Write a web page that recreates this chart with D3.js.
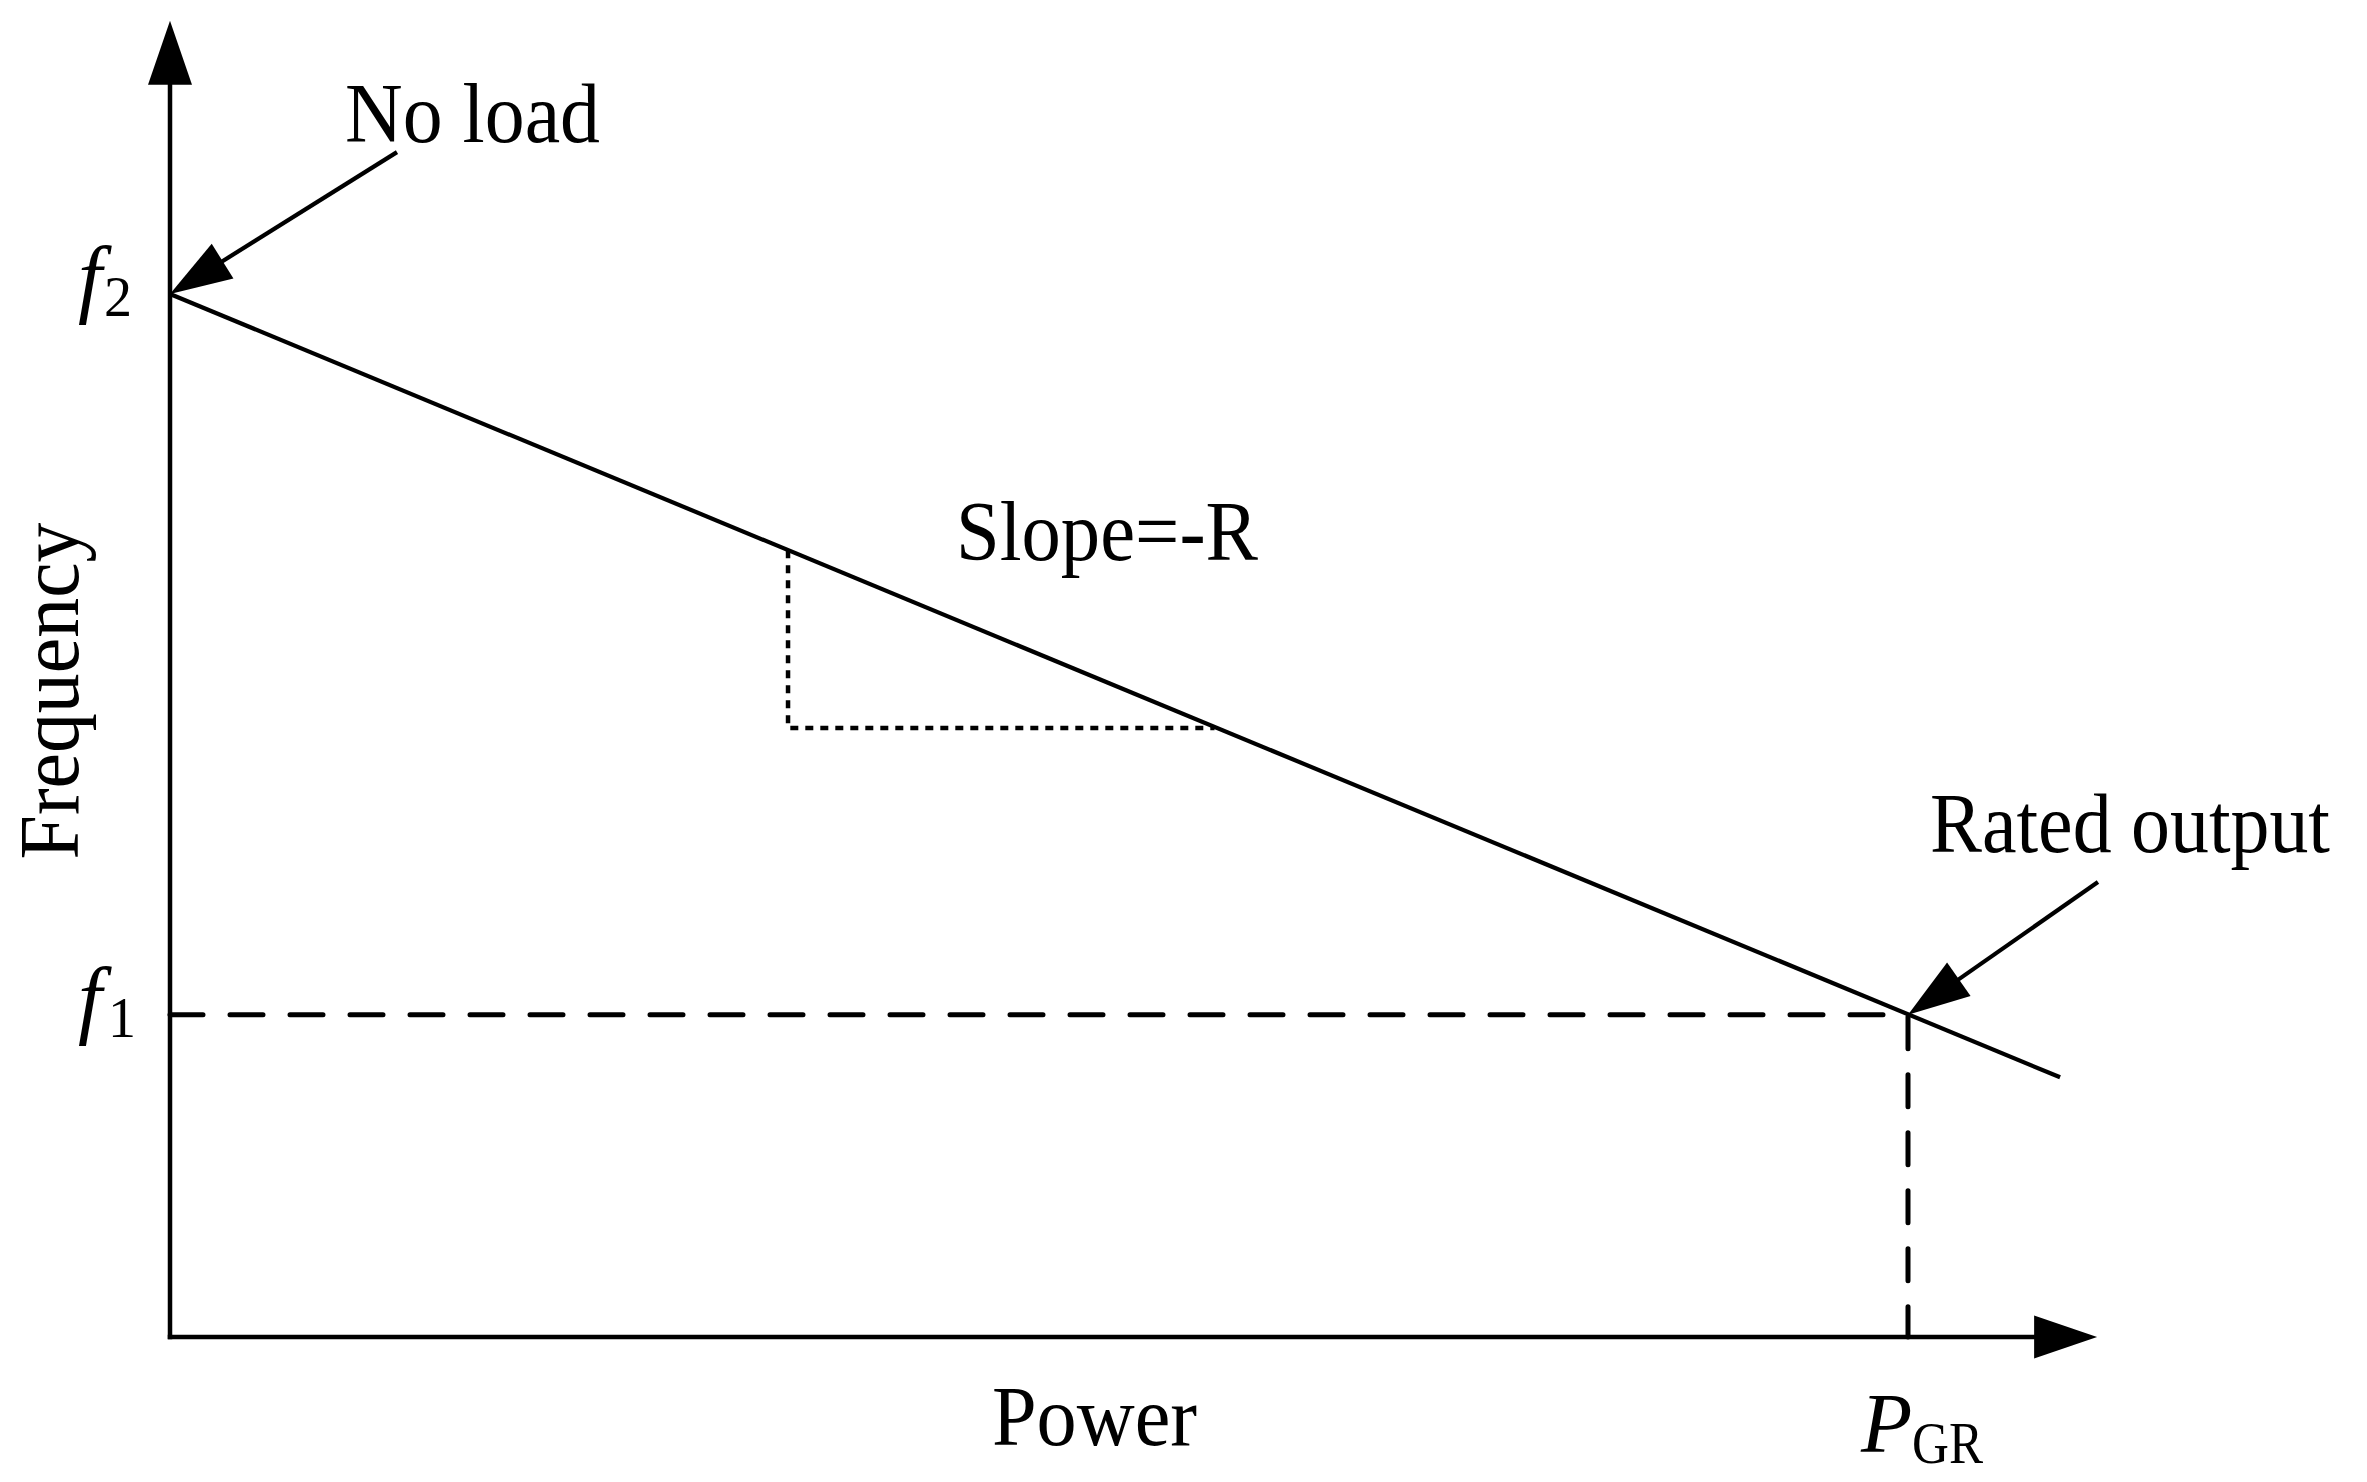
<!DOCTYPE html>
<html>
<head>
<meta charset="utf-8">
<script src="https://cdn.jsdelivr.net/npm/d3@7"></script>
<style>
  html, body { margin: 0; padding: 0; background: #fff; }
  svg { display: block; }
  text { font-family: "Liberation Serif", "Times New Roman", serif; fill: #000; }
</style>
</head>
<body>
<svg id="chart" width="2367" height="1482"></svg>
<script>
// ---- data (abstract units: power p, frequency f) ----
const yTickLabels = [
  { name: "f", sub: "2", value: 10.0 },
  { name: "f", sub: "1", value: 3.09 }
];
const xTickLabels = [
  { name: "P", sub: "GR", value: 1.0 }
];
const droopLine = [
  { p: 0.0, f: 10.0 },
  { p: 1.0875, f: 2.49 }
];
const ratedPoint = { p: 1.0, f: 3.09 };
const slopeTriangle = [
  { p: 0.3556, f: 7.543 },
  { p: 0.3556, f: 5.839 },
  { p: 0.601, f: 5.839 }
];
const axisExtent = { pMax: 1.1088, fMax: 12.62 };
const annotations = [
  { text: "No load", from: { p: 0.1306, f: 11.36 }, to: { p: 0.0, f: 10.0 } },
  { text: "Rated output", from: { p: 1.1093, f: 4.362 }, to: { p: 1.0, f: 3.09 } }
];
const axisTitles = { x: "Power", y: "Frequency" };
const slopeLabel = "Slope=-R";

// ---- scales ----
const x = d3.scaleLinear().domain([0, 1]).range([170, 1908]);
const y = d3.scaleLinear().domain([0, 10]).range([1337, 294]);

const svg = d3.select("#chart");
svg.append("rect").attr("width", 2367).attr("height", 1482).attr("fill", "#fff");

function arrowHead(g, fx, fy, tx, ty, L, W) {
  const dx = tx - fx, dy = ty - fy;
  const len = Math.hypot(dx, dy);
  const ux = dx / len, uy = dy / len;
  const bx = tx - ux * L, by = ty - uy * L;
  const nx = -uy, ny = ux;
  g.append("path")
    .attr("d", `M${tx},${ty}L${bx + nx * W},${by + ny * W}L${bx - nx * W},${by - ny * W}Z`)
    .attr("fill", "#000");
  return [bx + ux * 2, by + uy * 2];
}

// ---- axes ----
const axes = svg.append("g");
const x0 = x(0), y0 = y(0);
const xTip = x(axisExtent.pMax), yTip = y(axisExtent.fMax);
const xb = arrowHead(axes, x0, y0, xTip, y0, 63, 21.5);
const yb = arrowHead(axes, x0, y0, x0, yTip, 64, 22);
axes.append("line").attr("x1", x0 - 2.25).attr("y1", y0).attr("x2", xb[0]).attr("y2", y0)
  .attr("stroke", "#000").attr("stroke-width", 4.5);
axes.append("line").attr("x1", x0).attr("y1", y0 + 2.25).attr("x2", x0).attr("y2", yb[1])
  .attr("stroke", "#000").attr("stroke-width", 4.5);

// ---- reference dashed lines ----
svg.append("line")
  .attr("x1", x(0)).attr("y1", y(ratedPoint.f))
  .attr("x2", x(ratedPoint.p)).attr("y2", y(ratedPoint.f))
  .attr("stroke", "#000").attr("stroke-width", 5)
  .attr("stroke-linecap", "round").attr("stroke-dasharray", "33,27");
svg.append("line")
  .attr("x1", x(ratedPoint.p)).attr("y1", y(ratedPoint.f) + 2)
  .attr("x2", x(ratedPoint.p)).attr("y2", y(0))
  .attr("stroke", "#000").attr("stroke-width", 5)
  .attr("stroke-linecap", "round").attr("stroke-dasharray", "32,26");

// ---- slope triangle (dotted) ----
svg.append("path")
  .datum(slopeTriangle)
  .attr("d", d3.line().x(d => x(d.p)).y(d => y(d.f)))
  .attr("fill", "none").attr("stroke", "#000").attr("stroke-width", 4.5)
  .attr("stroke-dasharray", "8,7");

// ---- droop line ----
svg.append("path")
  .datum(droopLine)
  .attr("d", d3.line().x(d => x(d.p)).y(d => y(d.f)))
  .attr("fill", "none").attr("stroke", "#000").attr("stroke-width", 4.2);

// ---- annotation arrows ----
annotations.forEach(a => {
  const fx = x(a.from.p), fy = y(a.from.f), tx = x(a.to.p), ty = y(a.to.f);
  const b = arrowHead(svg, fx, fy, tx, ty, 62, 20.5);
  svg.append("line").attr("x1", fx).attr("y1", fy).attr("x2", b[0]).attr("y2", b[1])
    .attr("stroke", "#000").attr("stroke-width", 4.2);
});

// ---- texts ----
const FS = 84;
svg.append("text").attr("x", 345).attr("y", 142).attr("font-size", FS)
  .attr("textLength", 255).attr("lengthAdjust", "spacingAndGlyphs").text(annotations[0].text);
svg.append("text").attr("x", 1930).attr("y", 852).attr("font-size", FS)
  .attr("textLength", 400).attr("lengthAdjust", "spacingAndGlyphs").text(annotations[1].text);
svg.append("text").attr("x", 956).attr("y", 560).attr("font-size", FS)
  .attr("textLength", 302).attr("lengthAdjust", "spacingAndGlyphs").text(slopeLabel);
svg.append("text").attr("x", 992).attr("y", 1445).attr("font-size", FS)
  .attr("textLength", 205).attr("lengthAdjust", "spacingAndGlyphs").text(axisTitles.x);
svg.append("text")
  .attr("transform", "translate(78,691) rotate(-90)")
  .attr("text-anchor", "middle").attr("font-size", FS)
  .attr("textLength", 337).attr("lengthAdjust", "spacingAndGlyphs").text(axisTitles.y);

// y tick labels (f2, f1)
yTickLabels.forEach(t => {
  const yy = y(t.value);
  svg.append("text").attr("x", x(0) - 92).attr("y", yy + 12)
    .attr("font-size", 86).attr("font-style", "italic").text(t.name);
  svg.append("text").attr("x", x(0) - (t.sub === "1" ? 62 : 66)).attr("y", yy + 22)
    .attr("font-size", 56).text(t.sub);
});
// x tick label (P_GR)
xTickLabels.forEach(t => {
  const xx = x(t.value);
  svg.append("text").attr("x", xx - 47).attr("y", 1452)
    .attr("font-size", 84).attr("font-style", "italic").text(t.name);
  svg.append("text").attr("x", xx + 4).attr("y", 1463)
    .attr("font-size", 60).attr("textLength", 71).attr("lengthAdjust", "spacingAndGlyphs").text(t.sub);
});
</script>
</body>
</html>
